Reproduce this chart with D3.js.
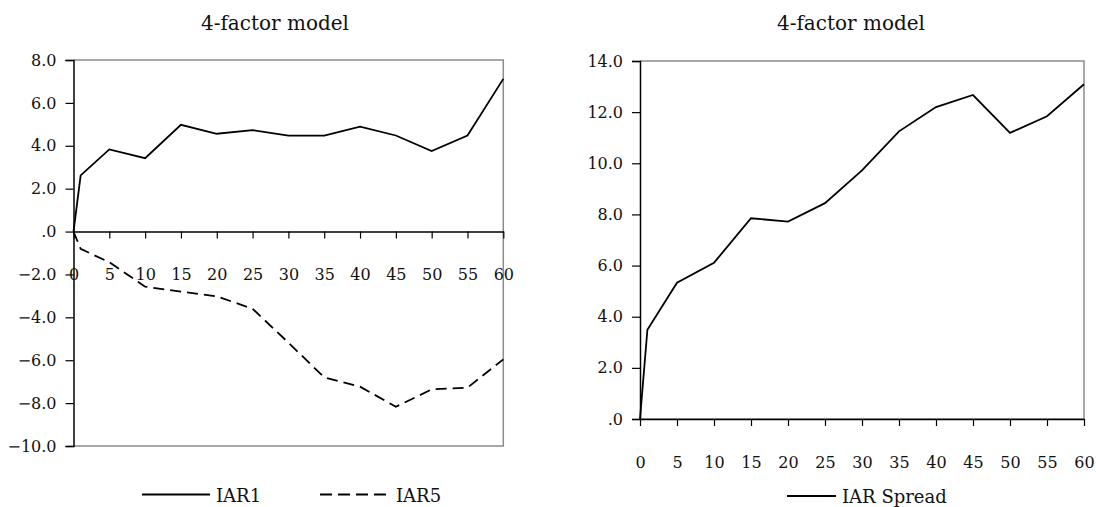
<!DOCTYPE html>
<html>
<head>
<meta charset="utf-8">
<script src="https://cdn.jsdelivr.net/npm/d3@7"></script>
<style>
  body{margin:0;background:#fff;}
  svg{display:block;font-family:"DejaVu Serif",serif;}
</style>
</head>
<body>
<svg id="chart" width="1096" height="507"></svg>
<script>
// ---- data ----
const months = [0,1,5,10,15,20,25,30,35,40,45,50,55,60];
const iar1   = [0,2.62,3.83,3.42,4.98,4.56,4.73,4.47,4.47,4.89,4.48,3.75,4.48,7.12];
const iar5   = [0,-0.81,-1.43,-2.57,-2.80,-3.02,-3.60,-5.18,-6.80,-7.23,-8.17,-7.36,-7.28,-5.96];
const spread = [0,3.49,5.33,6.11,7.85,7.72,8.44,9.72,11.25,12.20,12.67,11.19,11.84,13.09];
const xTicks = [0,5,10,15,20,25,30,35,40,45,50,55,60];
const yTicksLeft  = [-10,-8,-6,-4,-2,0,2,4,6,8];
const yTicksRight = [0,2,4,6,8,10,12,14];
const title = "4-factor model";

const svg = d3.select("#chart");
const fmtY = v => v===0 ? ".0" : d3.format(".1f")(v);

function panel(o){
  const x = d3.scaleLinear().domain([0,60]).range([o.l,o.r]);
  const y = d3.scaleLinear().domain(o.yDom).range([o.b,o.t]);
  const g = svg.append("g");

  // frame: grey top/right/bottom
  g.append("path")
    .attr("d",`M${o.l},${o.t}H${o.r}V${o.b}H${o.l}`)
    .attr("fill","none").attr("stroke","#8c8c8c").attr("stroke-width",1.5);

  // y axis
  const ya = g.append("g").attr("transform",`translate(${o.l},0)`)
    .call(d3.axisLeft(y).tickValues(o.yTicks).tickFormat(fmtY).tickSize(8).tickPadding(9));
  ya.select(".domain").attr("stroke","#000").attr("stroke-width",1.5);
  ya.selectAll(".tick line").attr("stroke","#000").attr("stroke-width",1.2);
  ya.selectAll("text").attr("font-family","DejaVu Serif").attr("font-size",16).attr("fill","#111");

  // x axis on the zero line
  const xa = g.append("g").attr("transform",`translate(0,${y(0)})`)
    .call(d3.axisBottom(x).tickValues(xTicks).tickSize(7).tickPadding(o.xPad).tickSizeOuter(0));
  xa.select(".domain").attr("stroke","#000").attr("stroke-width",1.5);
  xa.selectAll(".tick line").attr("stroke","#000").attr("stroke-width",1.2);
  xa.selectAll("text").attr("font-family","DejaVu Serif").attr("font-size",16).attr("fill","#111");

  // title
  g.append("text").attr("x",o.titleX).attr("y",30).attr("text-anchor","middle")
    .attr("font-size",20).attr("fill","#111").text(title);

  // lines
  const line = d3.line().x((d,i)=>x(months[i])).y(d=>y(d));
  o.series.forEach(s=>{
    g.append("path").datum(s.values)
      .attr("d",line).attr("fill","none").attr("stroke","#000")
      .attr("stroke-width",1.8).attr("stroke-dasharray",s.dash||null)
      .attr("stroke-linejoin","miter");
  });

  // legend
  o.legend.forEach(L=>{
    g.append("line").attr("x1",L.x).attr("x2",L.x+L.w).attr("y1",L.y).attr("y2",L.y)
      .attr("stroke","#000").attr("stroke-width",1.8).attr("stroke-dasharray",L.dash||null);
    g.append("text").attr("x",L.x+L.w+6).attr("y",L.y+7).attr("font-size",18)
      .attr("fill","#111").text(L.name);
  });
}

panel({
  l:73.5, r:503.3, t:60, b:446, yDom:[-10,8], yTicks:yTicksLeft, xPad:30, titleX:275,
  series:[{values:iar1},{values:iar5,dash:"11,6"}],
  legend:[{x:142,w:68,y:494.5,name:"IAR1"},{x:320,w:70,y:494.5,name:"IAR5",dash:"12,6"}]
});

panel({
  l:640, r:1084, t:61, b:419, yDom:[0,14], yTicks:yTicksRight, xPad:31, titleX:851,
  series:[{values:spread}],
  legend:[{x:787,w:49,y:496,name:"IAR Spread"}]
});
</script>
</body>
</html>
